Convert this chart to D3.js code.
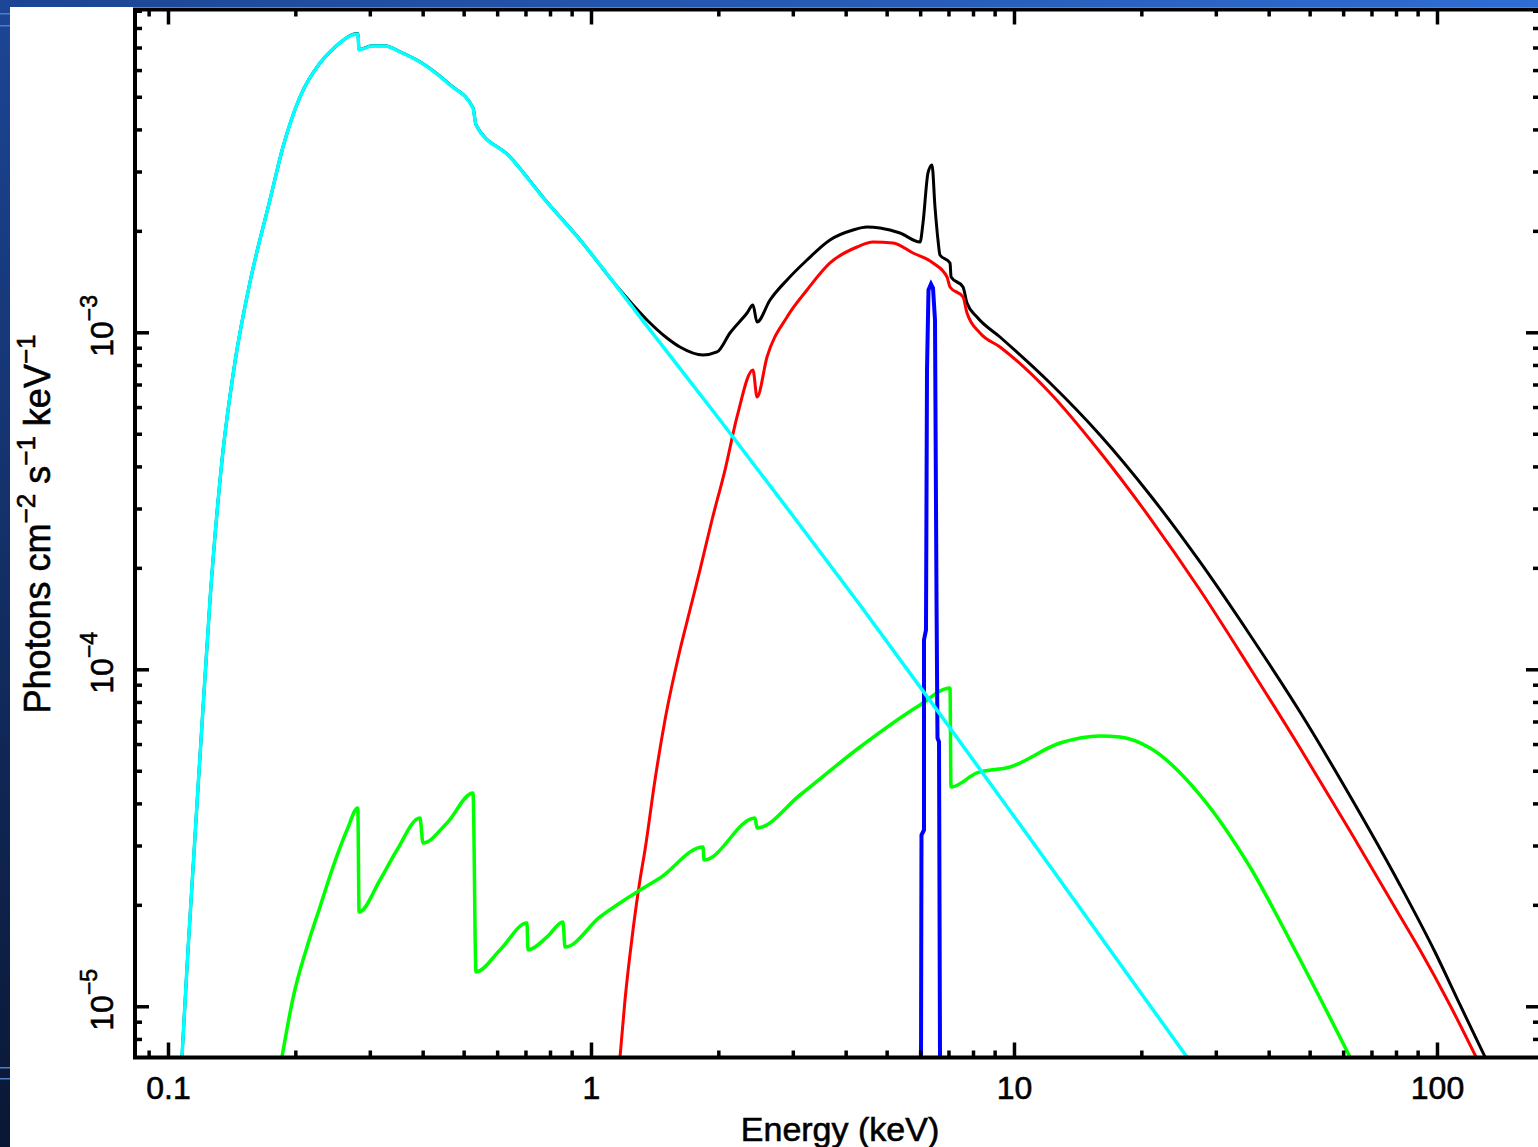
<!DOCTYPE html>
<html>
<head>
<meta charset="utf-8">
<script src="https://cdn.jsdelivr.net/npm/d3@7"></script>
<style>
  html, body { margin: 0; padding: 0; background: #fff; overflow: hidden; }
  svg { display: block; }
  text { font-family: "Liberation Sans", Arial, Helvetica, sans-serif; fill: #000; }
</style>
</head>
<body>
<div id="chart"></div>
<script>
// energies in keV, fluxes in photons cm^-2 s^-1 keV^-1

// total model (black)
var totalEnergy = [0.1079, 0.1115, 0.1197, 0.1257, 0.1342, 0.1440, 0.1563, 0.1742, 0.1870, 0.2051,
  0.2287, 0.2482, 0.2810, 0.2830, 0.3035, 0.3258, 0.3536, 0.3942, 0.4641, 0.5261,
  0.5347, 0.6435, 0.7787, 0.9419, 1.171, 1.3565, 1.512, 1.623, 1.840, 1.986,
  2.131, 2.338, 2.415, 2.469, 2.650, 2.907, 3.241, 3.673, 4.163, 4.493,
  4.822, 5.377, 5.996, 6.094, 6.262, 6.400, 6.505, 6.612, 6.684, 7.06,
  7.10, 7.576, 7.743, 8.176, 9.267, 12.17, 15.97, 20.97, 27.53, 36.14,
  47.45, 62.29, 81.76, 98.92, 113.4, 129.9];
var totalFlux = [7.07e-6, 1.469e-5, 6.169e-5, 1.606e-4, 4.178e-4, 8.165e-4, 1.41e-3, 2.47e-3, 3.547e-3, 4.992e-3,
  6.297e-3, 7.024e-3, 7.70e-3, 6.90e-3, 7.09e-3, 7.09e-3, 6.80e-3, 6.35e-3, 5.43e-3, 4.64e-3,
  4.13e-3, 3.32e-3, 2.475e-3, 1.883e-3, 1.335e-3, 1.088e-3, 9.618e-4, 9.044e-4, 8.563e-4, 8.741e-4,
  9.952e-4, 1.141e-3, 1.205e-3, 1.073e-3, 1.247e-3, 1.43e-3, 1.639e-3, 1.879e-3, 2.011e-3, 2.053e-3,
  2.039e-3, 1.971e-3, 1.853e-3, 2.11e-3, 2.97e-3, 3.137e-3, 2.354e-3, 1.879e-3, 1.696e-3, 1.606e-3,
  1.459e-3, 1.363e-3, 1.222e-3, 1.11e-3, 9.684e-4, 7.072e-4, 4.958e-4, 3.29e-4, 2.082e-4, 1.264e-4,
  7.467e-5, 4.207e-5, 2.291e-5, 1.449e-5, 1.009e-5, 7.07e-6];

// soft component (cyan)
var softEnergy = [0.1079, 0.1115, 0.1197, 0.1257, 0.1342, 0.1440, 0.1563, 0.1742, 0.1870, 0.2051,
  0.2287, 0.2482, 0.2810, 0.2830, 0.3035, 0.3258, 0.3536, 0.3942, 0.4641, 0.5261,
  0.5347, 0.6435, 0.7787, 0.9419, 1.379, 2.018, 2.955, 4.325, 7.059, 11.33,
  16.87, 25.64];
var softFlux = [7.07e-6, 1.469e-5, 6.169e-5, 1.606e-4, 4.178e-4, 8.165e-4, 1.41e-3, 2.47e-3, 3.547e-3, 4.992e-3,
  6.297e-3, 7.024e-3, 7.679e-3, 6.882e-3, 7.072e-3, 7.072e-3, 6.788e-3, 6.341e-3, 5.418e-3, 4.63e-3,
  4.122e-3, 3.313e-3, 2.47e-3, 1.879e-3, 1.016e-3, 5.492e-4, 2.929e-4, 1.552e-4, 6.696e-5, 2.949e-5,
  1.469e-5, 7.07e-6];

// absorbed hard component (red)
var hardEnergy = [1.171, 1.2034, 1.257, 1.3056, 1.3418, 1.4167, 1.496, 1.623, 1.714, 1.810,
  1.932, 2.074, 2.214, 2.415, 2.469, 2.607, 2.907, 3.241, 3.673, 4.255,
  4.642, 5.176, 5.771, 6.435, 6.944, 7.059, 7.576, 7.743, 8.311, 9.267,
  12.17, 15.97, 20.97, 27.53, 36.14, 47.45, 62.29, 81.76, 91.17, 107.3,
  123.7];
var hardFlux = [7.07e-6, 1.044e-5, 1.684e-5, 2.37e-5, 2.909e-5, 4.694e-5, 7.072e-5, 1.141e-4, 1.5e-4, 1.971e-4,
  2.773e-4, 3.902e-4, 5.607e-4, 7.731e-4, 6.428e-4, 8.445e-4, 1.11e-3, 1.335e-3, 1.606e-3, 1.791e-3,
  1.853e-3, 1.841e-3, 1.719e-3, 1.606e-3, 1.459e-3, 1.363e-3, 1.273e-3, 1.141e-3, 9.952e-4, 9.044e-4,
  6.606e-4, 4.414e-4, 2.811e-4, 1.719e-4, 1.009e-4, 5.841e-5, 3.313e-5, 1.853e-5, 1.469e-5, 1.009e-5,
  7.07e-6];

// reflection (green)
var reflEnergy = [0.1860, 0.1975, 0.2131, 0.2287, 0.2455, 0.2650, 0.2810, 0.2830, 0.3171, 0.3478,
  0.3942, 0.4007, 0.4566, 0.5261, 0.5347, 0.6094, 0.7058, 0.7097, 0.7873, 0.8586,
  0.8680, 1.050, 1.306, 1.456, 1.840, 1.850, 2.442, 2.469, 3.120, 4.325,
  5.996, 7.059, 7.097, 8.176, 9.785, 12.85, 15.97, 17.81, 20.97, 27.53,
  36.14, 46.17, 62.29];
var reflFlux = [7.07e-6, 1.058e-5, 1.499e-5, 1.971e-5, 2.59e-5, 3.335e-5, 3.876e-5, 1.905e-5, 2.37e-5, 2.909e-5,
  3.62e-5, 3.051e-5, 3.499e-5, 4.295e-5, 1.264e-5, 1.469e-5, 1.767e-5, 1.469e-5, 1.606e-5, 1.779e-5,
  1.499e-5, 1.841e-5, 2.213e-5, 2.403e-5, 2.97e-5, 2.717e-5, 3.62e-5, 3.381e-5, 4.236e-5, 5.881e-5,
  7.838e-5, 8.8e-5, 4.474e-5, 4.924e-5, 5.129e-5, 6.043e-5, 6.341e-5, 6.296e-5, 5.841e-5, 4.236e-5,
  2.59e-5, 1.469e-5, 7.07e-6];

// Fe K line (blue), binned
var lineEnergy = [6.028, 6.044, 6.127, 6.127, 6.194, 6.228, 6.279, 6.365, 6.435, 6.505,
  6.559, 6.594, 6.649, 6.685];
var lineFlux = [7.0e-6, 3.223e-5, 3.335e-5, 1.222e-4, 1.308e-4, 7.731e-4, 1.335e-3, 1.391e-3, 1.354e-3, 1.088e-3,
  1.606e-4, 6.253e-5, 6.085e-5, 7.0e-6];

var xDomain = [0.08356, 175.2];
var yDomain = [7.047e-6, 9.076e-3];
var xTickLabels = ["0.1", "1", "10", "100"];
var yTickExponents = [-5, -4, -3];
var xTitle = "Energy (keV)";

var W = 1538, H = 1147;
var plot = {left: 135, right: 1540, top: 9.5, bottom: 1057.5};

var svg = d3.select("#chart").append("svg")
    .attr("width", W)
    .attr("height", H);

var defs = svg.append("defs");
var gTop = defs.append("linearGradient").attr("id", "bandTop");
gTop.append("stop").attr("offset", "0%").attr("stop-color", "#1c4592");
gTop.append("stop").attr("offset", "100%").attr("stop-color", "#2f6dd3");
var gLeft = defs.append("linearGradient").attr("id", "bandLeft")
    .attr("x1", 0).attr("y1", 0).attr("x2", 0).attr("y2", 1);
gLeft.append("stop").attr("offset", "0%").attr("stop-color", "#1c4696");
gLeft.append("stop").attr("offset", "100%").attr("stop-color", "#0a1734");
defs.append("clipPath").attr("id", "plotClip")
  .append("rect")
    .attr("x", plot.left).attr("y", plot.top)
    .attr("width", plot.right - plot.left).attr("height", plot.bottom - plot.top);

svg.append("rect").attr("width", W).attr("height", H).attr("fill", "#fff");
svg.append("rect").attr("width", W).attr("height", 7).attr("fill", "url(#bandTop)");
svg.append("rect").attr("width", 10).attr("height", H).attr("fill", "url(#bandLeft)");
// faint highlight strokes on the slide edge
[13, 25, 1067, 1078].forEach(function(v) {
  svg.append("rect").attr("x", 0).attr("y", v).attr("width", 10).attr("height", 1.5)
    .attr("fill", "#4d7fcf");
});

var x = d3.scaleLog().domain(xDomain).range([plot.left, plot.right]);
var y = d3.scaleLog().domain(yDomain).range([plot.bottom, plot.top]);

function isDecade(v) {
  var l = Math.log10(v);
  return Math.abs(l - Math.round(l)) < 1e-6;
}
var xMinor = x.ticks().filter(function(v) { return !isDecade(v); });
var xMajor = x.ticks().filter(isDecade);
var yMinor = y.ticks().filter(function(v) { return !isDecade(v); });
var yMajor = y.ticks().filter(isDecade);

// curves
function zip(es, fs) {
  return es.map(function(e, i) { return [e, fs[i]]; });
}
var smooth = d3.line()
    .curve(d3.curveMonotoneX)
    .x(function(d) { return x(d[0]); })
    .y(function(d) { return y(d[1]); });
var straight = d3.line()
    .x(function(d) { return x(d[0]); })
    .y(function(d) { return y(d[1]); });

var series = [
  {data: zip(totalEnergy, totalFlux), color: "#000000", width: 3, gen: smooth},
  {data: zip(hardEnergy, hardFlux), color: "#ff0000", width: 3, gen: smooth},
  {data: zip(reflEnergy, reflFlux), color: "#00ff00", width: 3.5, gen: smooth},
  {data: zip(lineEnergy, lineFlux), color: "#0000ff", width: 4, gen: straight},
  {data: zip(softEnergy, softFlux), color: "#00ffff", width: 3.5, gen: smooth}
];

svg.append("g")
    .attr("clip-path", "url(#plotClip)")
  .selectAll("path")
  .data(series)
  .enter()
  .append("path")
    .attr("d", function(s) { return s.gen(s.data); })
    .attr("fill", "none")
    .attr("stroke", function(s) { return s.color; })
    .attr("stroke-width", function(s) { return s.width; })
    .attr("stroke-linejoin", "miter");

// axes, ticks pointing into the box
function styleAxis(g) {
  g.select(".domain").remove();
  g.selectAll(".tick line").attr("stroke", "#000").attr("stroke-width", 3.5);
}

svg.append("g")
    .attr("transform", "translate(0," + plot.bottom + ")")
    .call(d3.axisBottom(x).tickValues(xMinor).tickSize(-7).tickSizeOuter(0).tickFormat(""))
    .call(styleAxis);
svg.append("g")
    .attr("transform", "translate(0," + plot.bottom + ")")
    .call(d3.axisBottom(x).tickValues(xMajor).tickSize(-15).tickSizeOuter(0).tickPadding(19)
      .tickFormat(function(d, i) { return xTickLabels[i]; }))
    .call(styleAxis)
    .call(function(g) {
      g.selectAll("text")
        .attr("font-size", 32)
        .attr("font-family", "Liberation Sans, Arial, sans-serif")
        .attr("fill", "#000")
        .attr("stroke", "#000")
        .attr("stroke-width", 0.6);
    });

svg.append("g")
    .attr("transform", "translate(0," + plot.top + ")")
    .call(d3.axisTop(x).tickValues(xMinor).tickSize(-7).tickSizeOuter(0).tickFormat(""))
    .call(styleAxis);
svg.append("g")
    .attr("transform", "translate(0," + plot.top + ")")
    .call(d3.axisTop(x).tickValues(xMajor).tickSize(-15).tickSizeOuter(0).tickFormat(""))
    .call(styleAxis);

svg.append("g")
    .attr("transform", "translate(" + plot.left + ",0)")
    .call(d3.axisLeft(y).tickValues(yMinor).tickSize(-7).tickSizeOuter(0).tickFormat(""))
    .call(styleAxis);
svg.append("g")
    .attr("transform", "translate(" + plot.left + ",0)")
    .call(d3.axisLeft(y).tickValues(yMajor).tickSize(-14).tickSizeOuter(0).tickFormat(""))
    .call(styleAxis);

svg.append("g")
    .attr("transform", "translate(" + plot.right + ",0)")
    .call(d3.axisRight(y).tickValues(yMinor).tickSize(-7).tickSizeOuter(0).tickFormat(""))
    .call(styleAxis);
svg.append("g")
    .attr("transform", "translate(" + plot.right + ",0)")
    .call(d3.axisRight(y).tickValues(yMajor).tickSize(-14).tickSizeOuter(0).tickFormat(""))
    .call(styleAxis);

// box
svg.append("rect")
    .attr("x", plot.left).attr("y", plot.top)
    .attr("width", plot.right - plot.left).attr("height", plot.bottom - plot.top)
    .attr("fill", "none")
    .attr("stroke", "#000")
    .attr("stroke-width", 4);

// rotated power-of-ten labels on the left
var yLab = svg.append("g").selectAll("g")
  .data(yTickExponents)
  .enter()
  .append("g")
    .attr("transform", function(e) {
      return "translate(113," + (y(Math.pow(10, e)) - 6.5) + ") rotate(-90)";
    });
var yText = yLab.append("text")
    .attr("text-anchor", "middle")
    .attr("stroke", "#000")
    .attr("stroke-width", 0.6);
yText.append("tspan").attr("font-size", 32).text("10");
yText.append("tspan").attr("font-size", 23).attr("dy", -16)
    .text(function(e) { return "\u2212" + Math.abs(e); });

// axis titles
svg.append("text")
    .attr("x", 840).attr("y", 1141)
    .attr("text-anchor", "middle")
    .attr("font-size", 34)
    .attr("stroke", "#000").attr("stroke-width", 0.6)
    .text(xTitle);

var yTitle = svg.append("g")
    .attr("transform", "translate(50,524) rotate(-90)")
  .append("text")
    .attr("text-anchor", "middle")
    .attr("font-size", 36)
    .attr("stroke", "#000").attr("stroke-width", 0.6);
yTitle.append("tspan").text("Photons cm");
yTitle.append("tspan").attr("font-size", 26).attr("dy", -15).text("\u22122");
yTitle.append("tspan").attr("dy", 15).text(" s");
yTitle.append("tspan").attr("font-size", 26).attr("dy", -15).text("\u22121");
yTitle.append("tspan").attr("dy", 15).text(" keV");
yTitle.append("tspan").attr("font-size", 26).attr("dy", -15).text("\u22121");
</script>
</body>
</html>
